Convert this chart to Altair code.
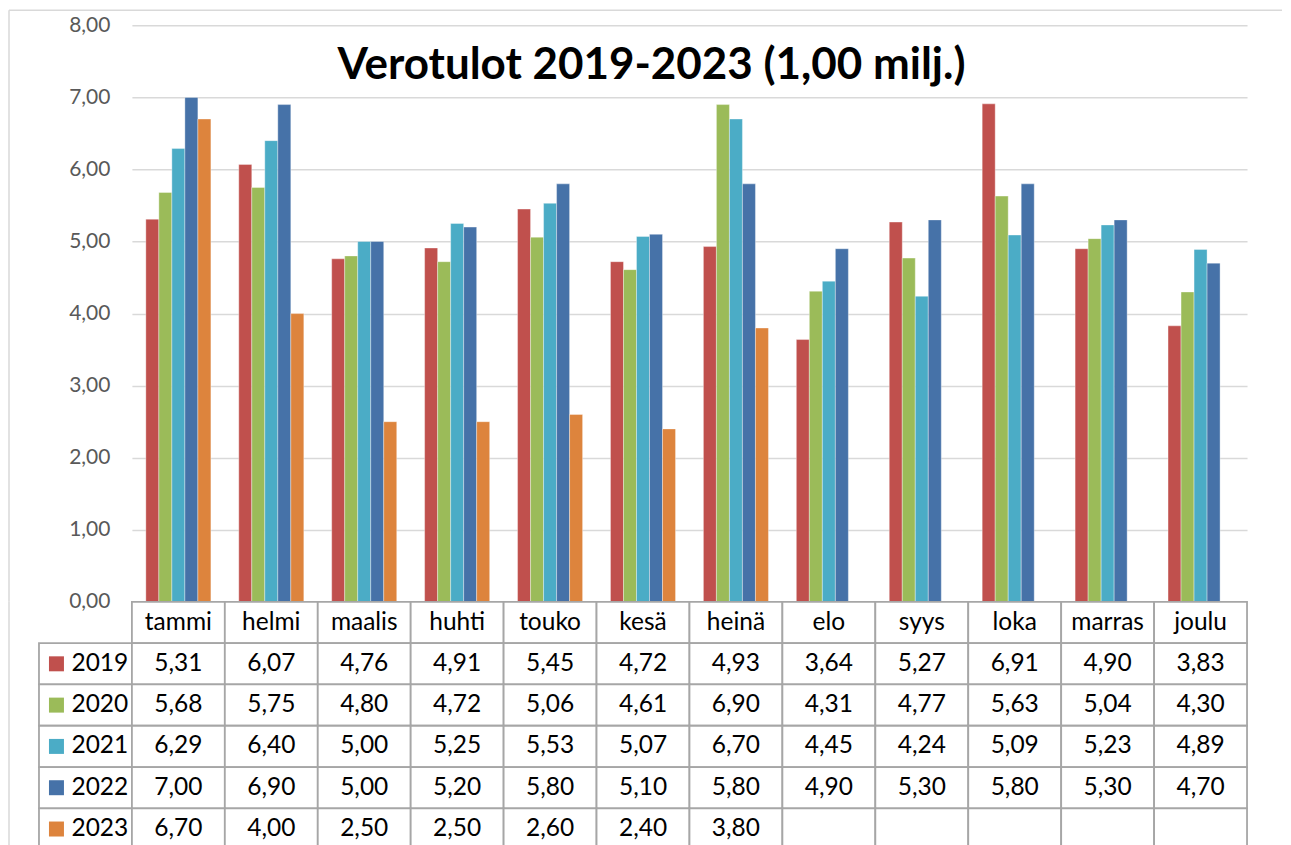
import altair as alt
import pandas as pd

title_text = "Verotulot 2019-2023 (1,00 milj.)"
months = ["tammi", "helmi", "maalis", "huhti", "touko", "kesä", "heinä",
          "elo", "syys", "loka", "marras", "joulu"]
years = ["2019", "2020", "2021", "2022", "2023"]
v2019 = [5.31, 6.07, 4.76, 4.91, 5.45, 4.72, 4.93, 3.64, 5.27, 6.91, 4.90, 3.83]
v2020 = [5.68, 5.75, 4.80, 4.72, 5.06, 4.61, 6.90, 4.31, 4.77, 5.63, 5.04, 4.30]
v2021 = [6.29, 6.40, 5.00, 5.25, 5.53, 5.07, 6.70, 4.45, 4.24, 5.09, 5.23, 4.89]
v2022 = [7.00, 6.90, 5.00, 5.20, 5.80, 5.10, 5.80, 4.90, 5.30, 5.80, 5.30, 4.70]
v2023 = [6.70, 4.00, 2.50, 2.50, 2.60, 2.40, 3.80, None, None, None, None, None]
colors = ["#C0504D", "#9BBB59", "#4BACC6", "#4672A8", "#DD843D"]

series = [v2019, v2020, v2021, v2022, v2023]
FONT = "Lato"

# long table for bars
rows = []
for y, vals in zip(years, series):
    for m, v in zip(months, vals):
        if v is not None:
            rows.append({"month": m, "year": y, "value": v})
bars_df = pd.DataFrame(rows)

# data table below the chart
def fmt(v):
    return "" if v is None else f"{v:.2f}".replace(".", ",")

cells = []
for i, m in enumerate(months):
    cells.append({"col": i, "row": 0, "label": m, "kind": "header", "year": ""})
for r, (y, vals) in enumerate(zip(years, series), start=1):
    cells.append({"col": -1, "row": r, "label": y, "kind": "legend", "year": y})
    for i, v in enumerate(vals):
        cells.append({"col": i, "row": r, "label": fmt(v), "kind": "value", "year": y})
table_df = pd.DataFrame(cells)

one = pd.DataFrame({"t": [title_text]})

bars = alt.Chart(bars_df).mark_bar(stroke="white", strokeWidth=0.6, strokeOpacity=0.6).encode(
    x=alt.X("month:N", sort=months, axis=None,
            scale=alt.Scale(domain=months, paddingInner=0.3, paddingOuter=0.15)),
    xOffset=alt.XOffset("year:N", scale=alt.Scale(domain=years, paddingInner=0, paddingOuter=0)),
    y=alt.Y("value:Q", scale=alt.Scale(domain=[0, 8], nice=False),
            axis=alt.Axis(values=list(range(9)), title=None, domain=False, ticks=False,
                          labelExpr="replace(format(datum.value, '.2f'), '.', ',')",
                          labelPadding=22, labelFontSize=21, labelColor="#595959",
                          labelFont=FONT, grid=True, gridColor="#D9D9D9", gridWidth=1.5)),
    color=alt.Color("year:N", scale=alt.Scale(domain=years, range=colors), legend=None),
)

title = alt.Chart(one).mark_text(font=FONT, fontWeight="bold", fontSize=44, color="black",
                                 baseline="middle", align="center").encode(
    text="t:N", x=alt.value(520), y=alt.value(41))

frame_top = alt.Chart(one).mark_rule(color="#D9D9D9", strokeWidth=1.5).encode(
    x=alt.value(-123), x2=alt.value(1151), y=alt.value(-15))
frame_left = alt.Chart(one).mark_rule(color="#D9D9D9", strokeWidth=1.5).encode(
    x=alt.value(-123), y=alt.value(-15), y2=alt.value(577))

top = alt.layer(frame_top, frame_left, bars, title).properties(width=1116, height=577)

xs = alt.Scale(domain=[0, 12], nice=False, zero=False)
ys = alt.Scale(domain=[0, 6], nice=False, zero=False, reverse=True)

base = alt.Chart(table_df).transform_calculate(
    col2="datum.col + 1", row2="datum.row + 1", cx="datum.col + 0.5", cy="datum.row + 0.5")

cell_rects = base.mark_rect(fill="white", stroke="#A6A6A6", strokeWidth=1.8).encode(
    x=alt.X("col:Q", scale=xs, axis=None), x2="col2:Q",
    y=alt.Y("row:Q", scale=ys, axis=None), y2="row2:Q")

cell_text = base.transform_filter("datum.kind != 'legend'").mark_text(
    font=FONT, fontSize=24.5, color="black", baseline="middle", align="center").encode(
    x=alt.X("cx:Q", scale=xs, axis=None), y=alt.Y("cy:Q", scale=ys, axis=None), text="label:N")

legend_text = base.transform_filter("datum.kind == 'legend'").mark_text(
    font=FONT, fontSize=24.5, color="black", baseline="middle", align="left", dx=-14).encode(
    x=alt.X("cx:Q", scale=xs, axis=None), y=alt.Y("cy:Q", scale=ys, axis=None), text="label:N")

legend_sq = base.transform_filter("datum.kind == 'legend'").mark_square(
    size=225, opacity=1, xOffset=-29).encode(
    x=alt.X("cx:Q", scale=xs, axis=None), y=alt.Y("cy:Q", scale=ys, axis=None),
    color=alt.Color("year:N", scale=alt.Scale(domain=years, range=colors), legend=None))

frame_left2 = alt.Chart(one).mark_rule(color="#D9D9D9", strokeWidth=1.5).encode(
    x=alt.value(-123), y=alt.value(0), y2=alt.value(248))

bottom = alt.layer(frame_left2, cell_rects, cell_text, legend_text, legend_sq).properties(
    width=1116, height=248)

chart = alt.vconcat(top, bottom, spacing=0, bounds="flush").resolve_scale(
    color="shared").properties(
    padding={"left": 0, "top": 1, "right": 0, "bottom": 0}
).configure_view(stroke=None)

chart.save("out.html", embed_options={"renderer": "svg", "actions": False})
